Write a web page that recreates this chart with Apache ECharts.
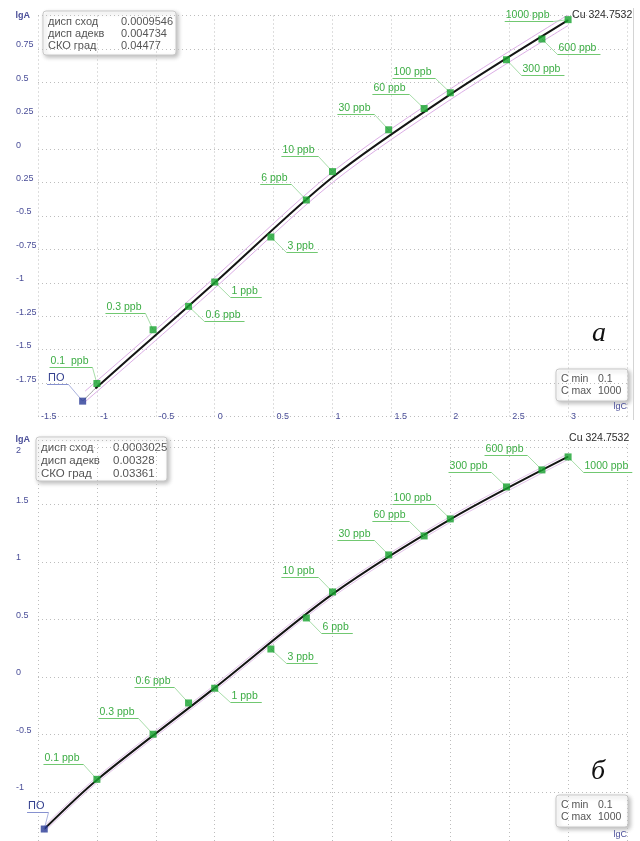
<!DOCTYPE html>
<html>
<head>
<meta charset="utf-8">
<script src="https://cdn.jsdelivr.net/npm/echarts@6/dist/echarts.min.js"></script>
<style>
html, body { margin: 0; padding: 0; background: #ffffff; overflow: hidden; }
#chart { width: 640px; height: 860px; }
</style>
</head>
<body>
<div id="chart"></div>
<script>
// ---- Cu 324.7532 calibration: standards (lgC) and measured lgA ----
const labelsA = ['0.1  ppb', '0.3 ppb', '0.6 ppb', '1 ppb', '3 ppb', '6 ppb', '10 ppb', '30 ppb', '60 ppb', '100 ppb', '300 ppb', '600 ppb', '1000 ppb'];
const labelsB = ['0.1 ppb', '0.3 ppb', '0.6 ppb', '1 ppb', '3 ppb', '6 ppb', '10 ppb', '30 ppb', '60 ppb', '100 ppb', '300 ppb', '600 ppb', '1000 ppb'];
const lgC = [-1, -0.523, -0.222, 0, 0.477, 0.778, 1, 1.477, 1.778, 2, 2.477, 2.778, 3];
const lgA_a = [-1.753, -1.351, -1.176, -0.994, -0.657, -0.380, -0.168, 0.145, 0.304, 0.422, 0.669, 0.824, 0.969];
const lgA_b = [-0.890, -0.498, -0.226, -0.098, 0.243, 0.513, 0.739, 1.061, 1.226, 1.374, 1.652, 1.800, 1.913];

// detection limit (ПО)
const lod_a = [-1.121, -1.885];
const lod_b = [-1.447, -1.322];

// calibration curves with their confidence band
const curveC_a = [-1.013, -0.5, 0, 1, 2, 3];
const curveA_a = [-1.79, -1.39, -1.0, -0.21, 0.41, 0.965];
const bandC_a = [-1.1, -0.5, 0, 1, 2, 3];
const bandHi_a = [-1.81, -1.35, -0.96, -0.17, 0.45, 1.005];
const bandLo_a = [-1.89, -1.43, -1.04, -0.25, 0.37, 0.925];

const curveC_b = [-1.447, -1, 0, 1, 2, 3];
const curveA_b = [-1.322, -0.895, -0.095, 0.72, 1.37, 1.915];
const bandHi_b = [-1.297, -0.870, -0.070, 0.745, 1.395, 1.940];
const bandLo_b = [-1.347, -0.920, -0.120, 0.695, 1.345, 1.890];

// axis tick labels
const xTickValues = [-1.5, -1, -0.5, 0, 0.5, 1, 1.5, 2, 2.5, 3];
const xTickLabels = ['-1.5', '-1', '-0.5', '0', '0.5', '1', '1.5', '2', '2.5', '3'];
const yTickValues_a = [0.75, 0.5, 0.25, 0, -0.25, -0.5, -0.75, -1, -1.25, -1.5, -1.75];
const yTickLabels_a = ['0.75', '0.5', '0.25', '0', '0.25', '-0.5', '-0.75', '-1', '-1.25', '-1.5', '-1.75'];
const yTickValues_b = [2, 1.5, 1, 0.5, 0, -0.5, -1];
const yTickLabels_b = ['2', '1.5', '1', '0.5', '0', '-0.5', '-1'];

// statistics boxes
const statNames = ['дисп сход', 'дисп адекв', 'СКО град'];
const statValues_a = ['0.0009546', '0.004734', '0.04477'];
const statValues_b = ['0.0003025', '0.00328', '0.03361'];
const rangeNames = ['C min', 'C max'];
const rangeValues = ['0.1', '1000'];
const lineName = 'Cu 324.7532';
const lodName = 'ПО';

// label placement (pixel offset of the leader end, side of the underline)
const offs_a = [[-5, -16, 'L'], [-8, -17, 'L'], [15, 15, 'R'], [15, 15, 'R'], [15, 15, 'R'], [-15, -16, 'L'], [-15, -16, 'L'],
  [-15, -16, 'L'], [-15, -15, 'L'], [-15, -15, 'L'], [15, 15, 'R'], [15, 15, 'R'], [-15, 1.5, 'L']];
const offs_b = [[-14, -15, 'L'], [-15, -16, 'L'], [-15, -16, 'L'], [15, 14, 'R'], [15, 14, 'R'], [15, 15, 'R'], [-15, -15, 'L'],
  [-15, -15, 'L'], [-15, -15, 'L'], [-15, -15, 'L'], [-15, -15, 'L'], [-15, -15, 'L'], [15, 15, 'R']];
const lodOff_a = [-15, -17, 'L'];
const lodOff_b = [4, -17, 'L'];

const FONT = '"Liberation Sans", Arial, sans-serif';
const AXIS_COLOR = '#4a4e98';
const GREEN = '#15a22d';
const GREEN_TEXT = '#3dad45';
const GREEN_LINE = '#71c871';
const GREEN_LEAD = '#a8deaa';
const BLUE = '#283a96';
const BLUE_TEXT = '#34408e';
const BLUE_LINE = '#8691cf';
const BLUE_LEAD = '#aab2de';

const measureCtx = document.createElement('canvas').getContext('2d');
function textWidth(t, size) {
  measureCtx.font = size + 'px ' + FONT;
  return measureCtx.measureText(t).width;
}

function pairs(xs, ys) { return xs.map((x, i) => [x, ys[i]]); }

function find(values, labels, v) {
  for (let i = 0; i < values.length; i++) {
    if (Math.abs(values[i] - v) < 1e-6) return labels[i];
  }
  return '';
}

// point labels with a leader line and an underline
function tagSeries(g, xs, ys, texts, offs, colors, size) {
  return {
    type: 'custom', xAxisIndex: g, yAxisIndex: g, z: 4, silent: true,
    data: xs.map((x, i) => [x, ys[i], i]),
    encode: { x: 0, y: 1 },
    renderItem: function (params, api) {
      const i = api.value(2);
      const p = api.coord([api.value(0), api.value(1)]);
      const o = offs[i];
      const jx = Math.round(p[0] + o[0]) + 0.5;
      const jy = Math.round(p[1] + o[1]) + 0.5;
      const w = textWidth(texts[i], size) + 5;
      const x0 = o[2] === 'L' ? jx - w : jx;
      const x1 = o[2] === 'L' ? jx : jx + w;
      return {
        type: 'group',
        children: [
          { type: 'line', shape: { x1: p[0], y1: p[1], x2: jx, y2: jy }, style: { stroke: colors[2], lineWidth: 1 } },
          { type: 'line', shape: { x1: x0, y1: jy, x2: x1, y2: jy }, style: { stroke: colors[1], lineWidth: 1 } },
          { type: 'text', x: x0 + 1, y: jy - 1,
            style: { text: texts[i], fill: colors[0], fontSize: size, fontFamily: FONT, align: 'left', verticalAlign: 'bottom' } }
        ]
      };
    }
  };
}

function nameSeries(g, pt, dx, dy) {
  return {
    type: 'custom', xAxisIndex: g, yAxisIndex: g, z: 4, silent: true,
    data: [pt], encode: { x: 0, y: 1 },
    renderItem: function (params, api) {
      const p = api.coord([api.value(0), api.value(1)]);
      return { type: 'text', x: p[0] + dx, y: p[1] + dy,
        style: { text: lineName, fill: '#2b2b2b', fontSize: 10.5, fontFamily: FONT, align: 'left', verticalAlign: 'middle' } };
    }
  };
}

function lineSeries(g, data, color, width, z) {
  return { type: 'line', xAxisIndex: g, yAxisIndex: g, data: data, symbol: 'none', smooth: 0.3, silent: true, z: z,
    lineStyle: { color: color, width: width } };
}

function scatterSeries(g, data, color, size, z) {
  return { type: 'scatter', xAxisIndex: g, yAxisIndex: g, data: data, symbol: 'rect', symbolSize: size, silent: true, z: z,
    itemStyle: { color: color } };
}

const splitLine = { show: true, lineStyle: { color: '#bdbdbd', width: 1, type: [1, 3] } };
const tickText = { color: AXIS_COLOR, fontSize: 9, fontFamily: FONT };

function xAxis(g, nameBottomPad) {
  return {
    type: 'value', gridIndex: g, min: -1.5, max: 3.5, interval: 0.5,
    axisLine: { show: false, onZero: false }, axisTick: { show: false }, splitLine: splitLine,
    axisLabel: Object.assign({ margin: 0, align: 'left', verticalAlign: 'middle', padding: [0, 0, 0, 3],
      formatter: v => find(xTickValues, xTickLabels, v) }, tickText),
    name: 'lgC', nameLocation: 'end', nameGap: 0,
    nameTextStyle: Object.assign({ align: 'right', verticalAlign: 'bottom', padding: [0, 0, nameBottomPad, 0] }, tickText)
  };
}

// value labels sit just above their grid line; a label at the very top edge drops below it
function yAxis(g, min, max, interval, vals, labs) {
  return {
    type: 'value', gridIndex: g, min: min, max: max, interval: interval,
    axisLine: { show: false, onZero: false }, axisTick: { show: false }, splitLine: splitLine,
    axisLabel: Object.assign({ margin: 22, align: 'left', verticalAlign: 'middle',
      formatter: function (v) {
        const t = find(vals, labs, v);
        if (!t) return '';
        return (v >= max - 0.08 ? '{t|' : '{n|') + t + '}';
      },
      rich: {
        n: Object.assign({ padding: [0, 0, 8, 0] }, tickText),
        t: Object.assign({ padding: [8, 0, 0, 0] }, tickText)
      } }, tickText),
    name: 'lgA', nameLocation: 'end', nameGap: 0,
    nameTextStyle: Object.assign({ fontWeight: 'bold', align: 'right', verticalAlign: 'middle', padding: [0, 8, 0, 0] }, tickText)
  };
}

function statBox(x, y, w, h, names, values, size, rowH, valX) {
  const children = [{ type: 'rect', shape: { x: 0, y: 0, width: w, height: h, r: 3 },
    style: { fill: '#ffffff', stroke: '#c9c9c9', lineWidth: 1, shadowBlur: 4, shadowOffsetX: 2, shadowOffsetY: 2, shadowColor: 'rgba(0,0,0,0.25)' } }];
  names.forEach((n, i) => {
    const cy = 10.5 + i * rowH;
    children.push({ type: 'text', x: 5, y: cy, style: { text: n, fill: '#555555', fontSize: size, fontFamily: FONT, verticalAlign: 'middle' } });
    children.push({ type: 'text', x: valX, y: cy, style: { text: values[i], fill: '#555555', fontSize: size, fontFamily: FONT, verticalAlign: 'middle' } });
  });
  return { type: 'group', x: x, y: y, z: 10, children: children };
}

const chart = echarts.init(document.getElementById('chart'), null, { renderer: 'canvas' });

chart.setOption({
  animation: false,
  backgroundColor: '#ffffff',
  grid: [
    { left: 38, top: 15.5, width: 589, height: 401 },
    { left: 38, top: 440, width: 589, height: 409.5 }
  ],
  xAxis: [xAxis(0, 5), xAxis(1, 10)],
  yAxis: [yAxis(0, -2, 1, 0.25, yTickValues_a, yTickLabels_a), yAxis(1, -1.5, 2.06, 0.5, yTickValues_b, yTickLabels_b)],
  series: [
    // panel a
    lineSeries(0, pairs(bandC_a, bandHi_a), '#dcaee6', 1, 2),
    lineSeries(0, pairs(bandC_a, bandLo_a), '#dcaee6', 1, 2),
    lineSeries(0, [lod_a, [curveC_a[0], curveA_a[0]]], '#9c9c9c', 1, 3),
    lineSeries(0, pairs(curveC_a, curveA_a), '#151515', 2, 3),
    tagSeries(0, lgC, lgA_a, labelsA, offs_a, [GREEN_TEXT, GREEN_LINE, GREEN_LEAD], 10.5),
    tagSeries(0, [lod_a[0]], [lod_a[1]], [lodName], [lodOff_a], [BLUE_TEXT, BLUE_LINE, BLUE_LEAD], 11),
    scatterSeries(0, pairs(lgC, lgA_a), GREEN, 7, 6),
    scatterSeries(0, [lod_a], BLUE, 7, 6),
    nameSeries(0, [lgC[12], lgA_a[12]], 4, -5),
    // panel b
    lineSeries(1, pairs(curveC_b, bandHi_b), '#e3c3ea', 1, 2),
    lineSeries(1, pairs(curveC_b, bandLo_b), '#e3c3ea', 1, 2),
    lineSeries(1, pairs(curveC_b, curveA_b), '#151515', 2, 3),
    tagSeries(1, lgC, lgA_b, labelsB, offs_b, [GREEN_TEXT, GREEN_LINE, GREEN_LEAD], 10.5),
    tagSeries(1, [lod_b[0]], [lod_b[1]], [lodName], [lodOff_b], [BLUE_TEXT, BLUE_LINE, BLUE_LEAD], 11),
    scatterSeries(1, pairs(lgC, lgA_b), GREEN, 7, 6),
    scatterSeries(1, [lod_b], BLUE, 7, 6),
    nameSeries(1, [lgC[12], lgA_b[12]], 1, -19)
  ],
  graphic: [
    statBox(43, 11, 133, 44, statNames, statValues_a, 11, 12, 78),
    statBox(556, 369, 72, 32, rangeNames, rangeValues, 10.5, 12, 42),
    statBox(36, 437, 131, 44, statNames, statValues_b, 11.5, 13.3, 77),
    statBox(556, 795, 72, 32, rangeNames, rangeValues, 10.5, 12, 42),
    { type: 'text', x: 592, y: 334, z: 10, style: { text: 'а', fill: '#111111', font: 'italic 28px "Liberation Serif", serif', verticalAlign: 'middle' } },
    { type: 'text', x: 591, y: 772, z: 10, style: { text: 'б', fill: '#111111', font: 'italic 28px "Liberation Serif", serif', verticalAlign: 'middle' } },
    { type: 'line', z: 1, shape: { x1: 633.5, y1: 8, x2: 633.5, y2: 420 }, style: { stroke: '#d4d4d4', lineWidth: 1 } }
  ]
});
</script>
</body>
</html>
